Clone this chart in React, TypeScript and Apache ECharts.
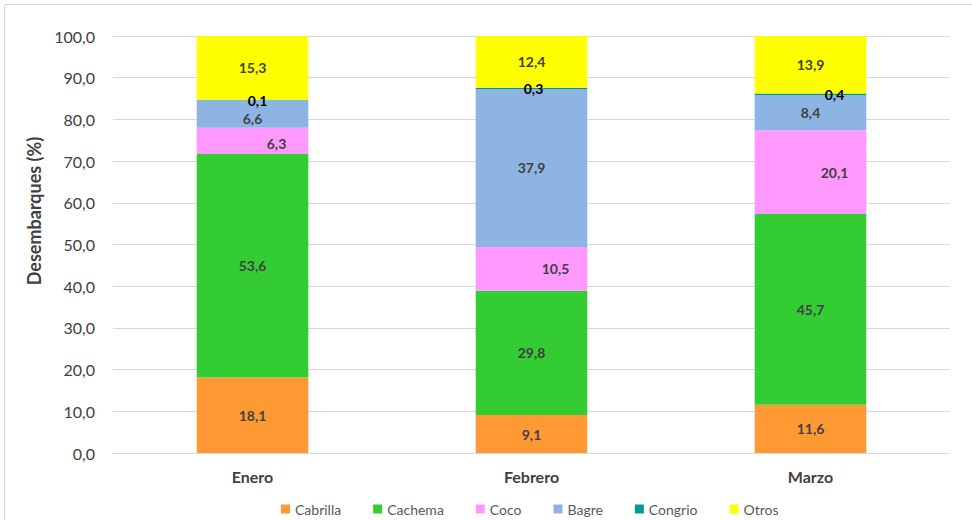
import React, { useEffect, useRef } from "react";
import * as echarts from "echarts";

const categories = ["Enero", "Febrero", "Marzo"];
const seriesNames = ["Cabrilla", "Cachema", "Coco", "Bagre", "Congrio", "Otros"];
const cabrilla = [18.1, 9.1, 11.6];
const cachema = [53.6, 29.8, 45.7];
const coco = [6.3, 10.5, 20.1];
const bagre = [6.6, 37.9, 8.4];
const congrio = [0.1, 0.3, 0.4];
const otros = [15.3, 12.4, 13.9];
const yTicks = [0, 10, 20, 30, 40, 50, 60, 70, 80, 90, 100];

const colors = ["#FF9933", "#33CC33", "#FF99FF", "#8EB4E3", "#009999", "#FFFF00"];
const FONT = "Lato, 'Open Sans', sans-serif";

const fmt = (v: number) => v.toFixed(1).replace(".", ",");

export default function App() {
  const ref = useRef<HTMLDivElement>(null);
  useEffect(() => {
    if (!ref.current) return;
    const chart = echarts.init(ref.current, undefined, { renderer: "svg" });
    const values = [cabrilla, cachema, coco, bagre, congrio, otros];
    const labelOffsets: Record<number, number[][]> = {
      2: [[24, 3], [24, 0], [24, 0]],
      3: [[0, 5], [0, 0], [0, 0]],
      4: [[5, 0], [2, 0], [24, 0]],
    };
    const series = values.map((vals, si) => ({
      name: seriesNames[si],
      type: "bar",
      stack: "total",
      barWidth: "40%",
      itemStyle: { color: colors[si] },
      data: vals.map((v, i) => {
        const off = labelOffsets[si] ? labelOffsets[si][i] : [0, 0];
        return {
          value: v,
          label: { offset: off },
        };
      }),
      label: {
        show: true,
        position: si === 4 ? "top" : "inside",
        distance: si === 4 ? -8 : 5,
        formatter: (p: any) => fmt(p.value),
        color: si === 4 ? "#000000" : "#404040",
        fontWeight: "bold",
        fontSize: 14,
        fontFamily: FONT,
      },
    }));
    chart.setOption({
      animation: false,
      backgroundColor: "#ffffff",
      textStyle: { fontFamily: FONT },
      grid: { left: 113, right: 22, top: 36, bottom: 67, containLabel: false },
      legend: {
        data: seriesNames,
        left: 276,
        top: 497,
        itemWidth: 9,
        itemHeight: 9,
        itemGap: 32,
        icon: "rect",
        textStyle: { color: "#595959", fontSize: 14, fontFamily: FONT },
      },
      xAxis: {
        type: "category",
        data: categories,
        axisLine: { show: true, lineStyle: { color: "#D9D9D9" } },
        axisTick: { show: false },
        axisLabel: {
          color: "#404040",
          fontWeight: "bold",
          fontSize: 16,
          margin: 15,
          fontFamily: FONT,
        },
      },
      yAxis: {
        type: "value",
        min: yTicks[0],
        max: yTicks[yTicks.length - 1],
        interval: 10,
        axisLine: { show: false },
        axisTick: { show: false },
        splitLine: { lineStyle: { color: "#D9D9D9" } },
        axisLabel: {
          color: "#404040",
          fontSize: 16,
          margin: 18,
          fontFamily: FONT,
          formatter: (v: number) => fmt(v),
        },
      },
      graphic: [
        {
          type: "text",
          x: 34,
          y: 211,
          rotation: Math.PI / 2,
          style: {
            text: "Desembarques (%)",
            fill: "#404040",
            font: `bold 18px ${FONT}`,
            textAlign: "center",
            textVerticalAlign: "middle",
          },
        },
        { type: "line", shape: { x1: 4.5, y1: 4.5, x2: 972, y2: 4.5 }, style: { stroke: "#D9D9D9", lineWidth: 1 } },
        { type: "line", shape: { x1: 4.5, y1: 4.5, x2: 4.5, y2: 520 }, style: { stroke: "#D9D9D9", lineWidth: 1 } },
      ],
      series,
    });
    return () => chart.dispose();
  }, []);
  return (
    <div
      ref={ref}
      style={{ position: "fixed", left: 0, top: 0, width: 972, height: 520 }}
    />
  );
}
